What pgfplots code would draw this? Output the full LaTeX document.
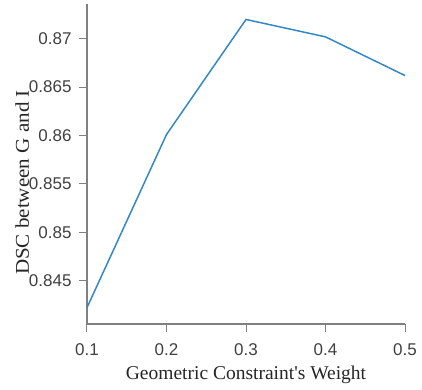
\documentclass[border=0pt]{standalone}
\usepackage{pgfplots}
\pgfplotsset{compat=1.18}
\usepackage{fontspec}
\setmainfont{Liberation Serif}
\newfontfamily\tickfont{Liberation Sans}
\definecolor{linec}{RGB}{52,136,199}
\definecolor{axc}{RGB}{128,128,128}
\definecolor{tickc}{RGB}{64,64,64}
\begin{document}
\begin{tikzpicture}
\begin{axis}[
  scale only axis,
  width=318pt, height=320pt,
  xmin=0.1, xmax=0.5,
  ymin=0.8405, ymax=0.8736,
  axis x line*=bottom, axis y line*=left,
  axis line style={axc, line width=1.2pt, -},
  xtick={0.1,0.2,0.3,0.4,0.5},
  ytick={0.845,0.85,0.855,0.86,0.865,0.87},
  xticklabels={0.1,0.2,0.3,0.4,0.5},
  yticklabels={0.845,0.85,0.855,0.86,0.865,0.87},
  tick align=outside,
  major tick length=8pt,
  tick style={axc, line width=1pt},
  tick label style={font=\tickfont\fontsize{17}{20}\selectfont, text=tickc},
  xticklabel style={yshift=-8pt},
  yticklabel style={xshift=-4pt},
  xlabel={Geometric Constraint\textquotesingle s Weight},
  ylabel={\scalebox{1.08}[1]{DSC between G and I}},
  label style={font=\fontsize{19.5}{22}\selectfont, text=black!85},
  xlabel style={at={(axis description cs:0.5,0)}, anchor=center, yshift=-51pt},
  ylabel style={at={(axis description cs:-0.204,0.442)}, anchor=center, rotate=0},
  clip=false,
]
\addplot[linec, line width=1.5pt] coordinates {
  (0.1,0.8422) (0.2,0.8601) (0.3,0.8720) (0.4,0.8702) (0.5,0.8662)
};
\coordinate (O) at (rel axis cs:0,0);
\end{axis}
\pgfresetboundingbox
\useasboundingbox ([xshift=-87pt,yshift=-65pt]O) rectangle ++(422pt,389pt);
\end{tikzpicture}
\end{document}
